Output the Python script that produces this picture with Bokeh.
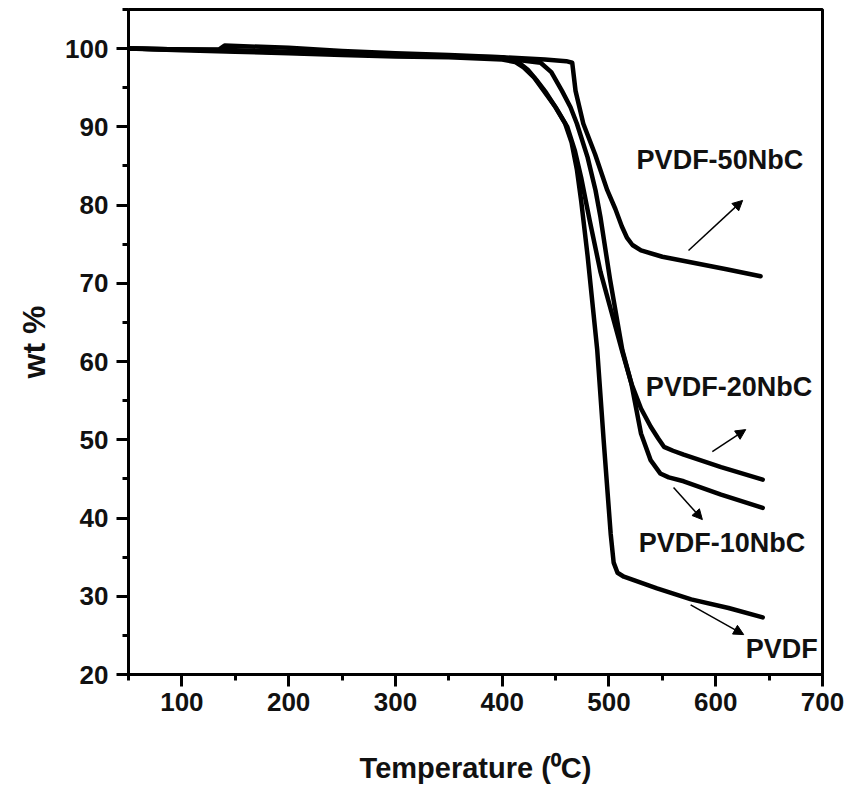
from bokeh.plotting import figure
from bokeh.models import Range1d, SingleIntervalTicker, Arrow, NormalHead, ColumnDataSource
from bokeh.core.properties import value
from bokeh.embed import file_html
from bokeh.resources import INLINE

# ---- data ----
t_pvdf = [50, 100, 150, 200, 250, 300, 350, 400, 412, 420, 430, 439, 450, 459, 465, 470, 474, 480, 489, 495, 501.6, 504.4, 508, 514, 545, 577, 612, 644]
w_pvdf = [100.0, 99.8, 99.6, 99.4, 99.2, 99.0, 98.9, 98.6, 98.3, 97.6, 96.3, 94.6, 92.5, 90.4, 88.0, 84.5, 80.5, 73.5, 61.5, 50.0, 38.0, 34.3, 33.0, 32.5, 31.0, 29.6, 28.5, 27.3]

t_10 = [50, 100, 135, 140, 200, 250, 300, 350, 400, 414, 424, 432, 441, 451, 461, 468, 474, 482, 492, 502, 512, 521, 530, 539, 548, 556, 570, 605, 644]
w_10 = [100.0, 99.9, 99.9, 100.4, 100.1, 99.7, 99.4, 99.2, 98.9, 98.4, 97.3, 96.0, 94.4, 92.3, 90.0, 87.0, 83.5, 78.0, 71.5, 66.5, 61.5, 57.2, 50.8, 47.4, 45.7, 45.2, 44.7, 43.0, 41.3]

t_20 = [50, 100, 150, 200, 250, 300, 350, 400, 436, 446, 456, 464, 470, 480, 487.4, 492, 501, 512.5, 521, 530, 539, 546, 551.5, 560, 570, 605, 644]
w_20 = [100.0, 99.9, 99.7, 99.5, 99.3, 99.1, 99.0, 98.8, 98.2, 97.0, 94.6, 92.5, 90.4, 86.1, 81.9, 78.5, 70.5, 61.5, 57.2, 54.0, 51.7, 50.2, 49.1, 48.6, 48.1, 46.5, 44.9]

t_50 = [50, 100, 150, 200, 250, 300, 350, 400, 440, 460, 465.6, 468.7, 476, 487, 498.4, 506, 512, 517, 522, 530, 550, 576.5, 610, 642]
w_50 = [100.0, 99.9, 99.8, 99.6, 99.4, 99.2, 99.0, 98.9, 98.6, 98.4, 98.2, 94.6, 90.4, 86.5, 81.9, 79.5, 77.3, 75.8, 74.9, 74.2, 73.4, 72.7, 71.8, 70.9]

label_text = ["PVDF-50NbC", "PVDF-20NbC", "PVDF-10NbC", "PVDF"]
label_x = [525.9, 534.4, 527.9, 628.2]
label_y = [85.7, 56.7, 36.8, 23.2]

arrow_x0 = [574.5, 596.8, 560.5, 576.5]
arrow_y0 = [74.2, 48.5, 43.9, 28.9]
arrow_x1 = [625.2, 628.1, 587.5, 626.2]
arrow_y1 = [80.6, 51.3, 39.8, 25.1]

x_ticks_interval = 100
y_ticks_interval = 10

# ---- figure ----
p = figure(width=845, height=786, output_backend="svg", toolbar_location=None,
           x_range=Range1d(50, 700), y_range=Range1d(20, 105),
           min_border_left=128, min_border_right=23, min_border_top=9, min_border_bottom=111)
p.background_fill_color = "white"
p.border_fill_color = "white"
p.grid.visible = False
p.outline_line_color = "black"
p.outline_line_width = 3

for t, w in [(t_pvdf, w_pvdf), (t_10, w_10), (t_20, w_20), (t_50, w_50)]:
    p.line(t, w, line_color="black", line_width=4.5, line_join="round", line_cap="round")

for i in range(len(arrow_x0)):
    p.add_layout(Arrow(x_start=arrow_x0[i], y_start=arrow_y0[i], x_end=arrow_x1[i], y_end=arrow_y1[i],
                       line_color="black", line_width=1.5,
                       end=NormalHead(size=10, fill_color="black", line_color="black", line_width=1)))

src = ColumnDataSource(dict(x=label_x, y=label_y, t=label_text))
p.text(x="x", y="y", text="t", source=src, text_font=value("Liberation Sans"),
       text_font_size="27px", text_font_style="bold", text_color="#111111",
       text_baseline="middle", text_align="left")

p.xaxis.ticker = SingleIntervalTicker(interval=x_ticks_interval, num_minor_ticks=2)
p.yaxis.ticker = SingleIntervalTicker(interval=y_ticks_interval, num_minor_ticks=2)

for ax in (p.xaxis[0], p.yaxis[0]):
    ax.axis_line_width = 3
    ax.axis_line_color = "black"
    ax.major_tick_line_width = 3
    ax.minor_tick_line_width = 3
    ax.major_tick_out = 12
    ax.major_tick_in = 0
    ax.minor_tick_out = 6
    ax.minor_tick_in = 0
    ax.major_label_text_font = "Liberation Sans"
    ax.major_label_text_font_size = "26px"
    ax.major_label_text_font_style = "bold"
    ax.major_label_text_color = "#111111"
    ax.axis_label_text_font = "Liberation Sans"
    ax.axis_label_text_font_style = "bold"
    ax.axis_label_text_color = "#111111"

p.xaxis.major_label_standoff = 6
p.yaxis.major_label_standoff = 8
p.xaxis.axis_label = "Temperature (\u2070C)"
p.xaxis.axis_label_text_font_size = "29px"
p.xaxis.axis_label_standoff = 38
p.yaxis.axis_label = "wt %"
p.yaxis.axis_label_text_font_size = "32px"
p.yaxis.axis_label_standoff = 10

open("out.html", "w").write(file_html(p, INLINE))
